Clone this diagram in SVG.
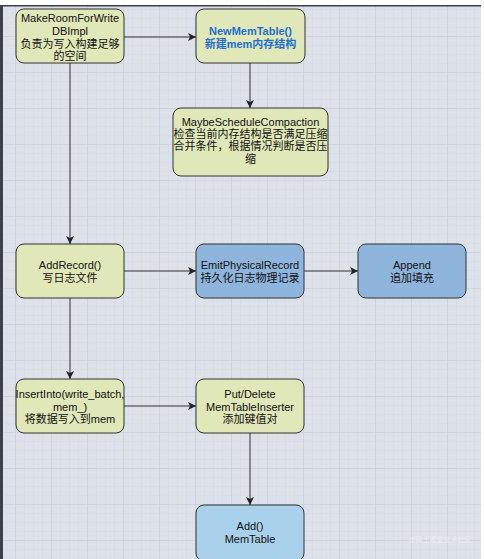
<svg xmlns="http://www.w3.org/2000/svg" width="484" height="559" viewBox="0 0 484 559">
<defs>
<pattern id="minor" patternUnits="userSpaceOnUse" x="15" y="0" width="9" height="9">
<path d="M0 0H9M0 0V9" fill="none" stroke="#d3d7df" stroke-width="0.8"/>
</pattern>
<pattern id="major" patternUnits="userSpaceOnUse" x="15" y="0" width="36" height="36">
<path d="M0 0H36M0 0V36" fill="none" stroke="#c5c9d1" stroke-width="1"/>
</pattern>
<marker id="arr" markerWidth="10" markerHeight="10" refX="9" refY="5" orient="auto" markerUnits="userSpaceOnUse">
<path d="M1 1L9 5L1 9L3 5Z" fill="#222"/>
</marker>
</defs>
<style>
.g{fill:#e0e7b8;stroke:#333;stroke-width:1}
.b{fill:#8fb5dd;stroke:#333;stroke-width:1}
.lb{fill:#a9d1ec;stroke:#333;stroke-width:1}
text{font-family:"Liberation Sans","Noto Sans CJK SC",sans-serif;font-size:11px;fill:#111;text-anchor:middle}
.blue{fill:#1f6fd0;font-weight:bold}
.c{stroke:#333;stroke-width:1;fill:none;marker-end:url(#arr)}
</style>
<rect x="0" y="0" width="484" height="559" fill="#ffffff"/>
<rect x="0" y="6" width="481" height="553" fill="#dde1e9"/>
<rect x="0" y="6" width="481" height="553" fill="url(#minor)"/>
<rect x="0" y="6" width="481" height="553" fill="url(#major)"/>
<rect x="0" y="5" width="481" height="1.5" fill="#3b404b"/>
<rect x="0" y="5" width="3" height="554" fill="#3b404b"/>

<g id="connectors">
<path class="c" d="M124 37H196"/>
<path class="c" d="M250 63V108"/>
<path class="c" d="M70 63V244"/>
<path class="c" d="M124 271H196"/>
<path class="c" d="M304 271H358"/>
<path class="c" d="M70 298V379"/>
<path class="c" d="M124 406H196"/>
<path class="c" d="M250 433V505"/>
</g>

<g id="makeroom">
<rect class="g" x="16" y="9" width="108" height="54" rx="8"/>
<text x="70" y="22">MakeRoomForWrite</text>
<text x="70" y="35">DBImpl</text>
<text x="70" y="47.5">负责为写入构建足够</text>
<text x="70" y="60">的空间</text>
</g>

<g id="newmemtable">
<rect class="g" x="196" y="9" width="109" height="54" rx="8"/>
<text class="blue" x="250.5" y="35">NewMemTable()</text>
<text class="blue" x="250.5" y="47.5">新建mem内存结构</text>
</g>

<g id="maybeschedule">
<rect class="g" x="173" y="108" width="155" height="68" rx="8"/>
<text x="250.5" y="126">MaybeScheduleCompaction</text>
<text x="250.5" y="138">检查当前内存结构是否满足压缩</text>
<text x="250.5" y="150">合并条件，根据情况判断是否压</text>
<text x="250.5" y="163">缩</text>
</g>

<g id="addrecord">
<rect class="g" x="16" y="244" width="108" height="54" rx="8"/>
<text x="70" y="269">AddRecord()</text>
<text x="70" y="281.5">写日志文件</text>
</g>

<g id="emitphysical">
<rect class="b" x="196" y="244" width="108" height="54" rx="8"/>
<text x="250" y="269">EmitPhysicalRecord</text>
<text x="250" y="281.5">持久化日志物理记录</text>
</g>

<g id="append">
<rect class="b" x="358" y="244" width="108" height="54" rx="8"/>
<text x="412" y="269">Append</text>
<text x="412" y="281.5">追加填充</text>
</g>

<g id="insertinto">
<rect class="g" x="16" y="379" width="108" height="54" rx="8"/>
<text x="70" y="398">InsertInto(write_batch,</text>
<text x="70" y="410.5">mem_)</text>
<text x="70" y="423">将数据写入到mem</text>
</g>

<g id="putdelete">
<rect class="g" x="196" y="379" width="108" height="54" rx="8"/>
<text x="250" y="398">Put/Delete</text>
<text x="250" y="410.5">MemTableInserter</text>
<text x="250" y="423">添加键值对</text>
</g>

<g id="addmemtable">
<rect class="lb" x="196" y="505" width="108" height="56" rx="8"/>
<text x="250" y="530">Add()</text>
<text x="250" y="543">MemTable</text>
</g>

<text x="440" y="542" style="font-size:7px;fill:#eceef2">@稀土掘金技术社区</text>
</svg>
